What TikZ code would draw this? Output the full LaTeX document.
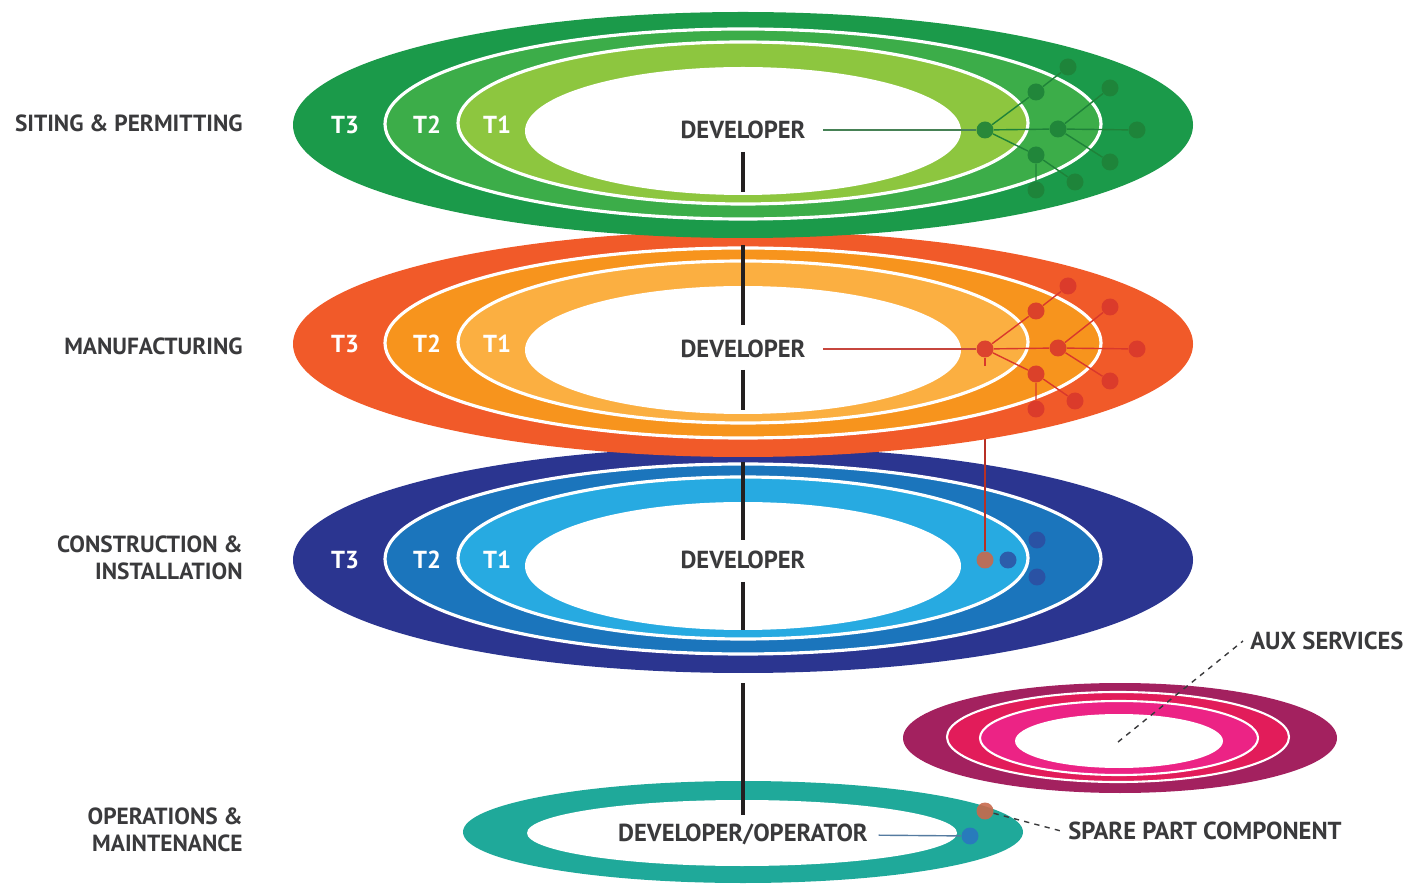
\documentclass[tikz,border=0pt]{standalone}
\usepackage{fontspec}
\setmainfont{PT Sans}
\usetikzlibrary{positioning}
\definecolor{greenT3}{HTML}{1B9A4A}
\definecolor{greenT2}{HTML}{3CAD49}
\definecolor{greenT1}{HTML}{8DC63F}
\definecolor{greenDot}{HTML}{1F8239}
\definecolor{orangeT3}{HTML}{F15A29}
\definecolor{orangeT2}{HTML}{F7941D}
\definecolor{orangeT1}{HTML}{FBAF41}
\definecolor{orangeDot}{HTML}{D9382C}
\definecolor{blueT3}{HTML}{2B3590}
\definecolor{blueT2}{HTML}{1B75BC}
\definecolor{blueT1}{HTML}{27AAE1}
\definecolor{blueDot}{HTML}{2E4A9E}
\definecolor{tealOM}{HTML}{1FA99A}
\definecolor{auxT3}{HTML}{A3215F}
\definecolor{auxT2}{HTML}{E21C5A}
\definecolor{auxT1}{HTML}{EC2385}
\definecolor{spareDot}{HTML}{C8694C}
\definecolor{omDot}{HTML}{2A77C0}
\definecolor{textgray}{HTML}{3A3A3C}
\definecolor{stemblack}{HTML}{231F20}

% one stage: centre y, T3, T2, T1 colours
\newcommand{\ringlayer}[4]{%
  \fill[#2] (743,#1) ellipse [x radius=450, y radius=113];
  \filldraw[fill=#3, draw=white, line width=1.8pt] (743,#1-1) ellipse [x radius=358, y radius=95];
  \filldraw[fill=#4, draw=white, line width=1.8pt] (743,#1-2) ellipse [x radius=285, y radius=81];
  \fill[white] (743,#1+6) ellipse [x radius=218, y radius=64];
}

% supply network: prefix, shift, colour
\newcommand{\supplynet}[3]{%
  \begin{scope}[shift={(0,#2)}]
    \node[netdot, fill=#3] (#1a) at (985,130) {};
    \node[netdot, fill=#3] (#1b) at (1058,129) {};
    \node[netdot, fill=#3] (#1c) at (1137,130) {};
    \node[netdot, fill=#3] (#1d) at (1036,92) {};
    \node[netdot, fill=#3] (#1e) at (1068,67) {};
    \node[netdot, fill=#3] (#1f) at (1110,88) {};
    \node[netdot, fill=#3] (#1g) at (1036,155) {};
    \node[netdot, fill=#3] (#1h) at (1110,162) {};
    \node[netdot, fill=#3] (#1i) at (1075,182) {};
    \node[netdot, fill=#3] (#1j) at (1036,190) {};
    \draw[#3, line width=0.8pt] (#1a) -- (#1d) -- (#1e) (#1a) -- (#1b) -- (#1c)
      (#1b) -- (#1f) (#1b) -- (#1h) (#1a) -- (#1g) -- (#1i) (#1g) -- (#1j);
  \end{scope}}

\begin{document}
\begin{tikzpicture}[x=0.02cm, y=-0.02cm,
	 stage/.style={font=\bfseries\fontsize{14}{15.5}\selectfont, text=textgray, inner sep=0pt},
	 label/.style={font=\bfseries\fontsize{13.3}{15.5}\selectfont, text=textgray, inner sep=0pt},
	 tier/.style={font=\bfseries\fontsize{14}{15.5}\selectfont, text=white},
	 netdot/.style={circle, inner sep=0pt, minimum size=0.34cm, opacity=0.9},
	 stem/.style={draw=stemblack, line width=2.3pt},
	 leader/.style={dashed, draw=textgray, line width=0.8pt}]
	\useasboundingbox (0,0) rectangle (1406,884);
	% bottom stages first
	\fill[tealOM] (743,832) ellipse [x radius=280, y radius=51];
	\fill[white] (742,833) ellipse [x radius=215, y radius=33];
	\fill[auxT3] (1120,738) ellipse [x radius=217, y radius=55];
	\filldraw[fill=auxT2, draw=white, line width=1.2pt] (1118,737) ellipse [x radius=171, y radius=45];
	\filldraw[fill=auxT1, draw=white, line width=1.2pt] (1119,738) ellipse [x radius=139, y radius=37];
	\fill[white] (1119,741) ellipse [x radius=104, y radius=27];
	\ringlayer{560}{blueT3}{blueT2}{blueT1}
	\node[netdot, fill=spareDot] (bred) at (985,560) {};
	\node[netdot, fill=blueDot, opacity=0.8] (bb1) at (1008,560) {};
	\node[netdot, fill=blueDot, opacity=0.8] (bb2) at (1037,540) {};
	\node[netdot, fill=blueDot, opacity=0.8] (bb3) at (1037,577) {};
	\coordinate (drop) at (985,349);
	\draw[orangeDot!85!black, line width=0.8pt] (bred) -- (drop);
	\ringlayer{344}{orangeT3}{orangeT2}{orangeT1}
	\ringlayer{125}{greenT3}{greenT2}{greenT1}
	\foreach \y/\p in {125/g,344/o,560/b} {
	  \node[tier] (\p3) at (345,\y) {T3};
	  \node[tier] (\p2) at (427,\y) {T2};
	  \node[tier] (\p1) at (497,\y) {T1};
	}
	\supplynet{g}{0}{greenDot}
	\supplynet{o}{219}{orangeDot}
	\draw[orangeDot, line width=0.8pt] (oa) -- ++(0,17);
	% developers
	\node[stage] (devG) at (743,130) {DEVELOPER};
	\node[stage] (devO) at (743,349) {DEVELOPER};
	\node[stage] (devB) at (743,560) {DEVELOPER};
	\node[stage] (devOM) at (743,834) {DEVELOPER/OPERATOR};
	\draw[greenDot!60!gray, line width=0.8pt, shorten <=10pt] (devG) -- (ga);
	\draw[orangeDot!80!gray, line width=0.8pt, shorten <=10pt] (devO) -- (oa);
	\draw[stem] (devG) ++(0,22) -- ++(0,40);
	\draw[stem] (devO) ++(0,-104) -- ++(0,80);
	\draw[stem] (devO) ++(0,21) -- ++(0,40);
	\draw[stem] (devB) ++(0,-98) -- ++(0,78);
	\draw[stem] (devB) ++(0,22) -- ++(0,48);
	\draw[stem] (devOM) ++(0,-151) -- ++(0,132);
	% operations dots
	\node[netdot, fill=omDot] (omdot) at (970,836) {};
	\node[netdot, fill=spareDot] (spare) at (985,811) {};
	\draw[omDot!50!gray, line width=0.8pt, shorten <=6pt] (devOM) -- (omdot);
	% stage labels
	\node[label, anchor=east] (sitLbl) at (243,123) {SITING \& PERMITTING};
	\node[label, anchor=east] (manLbl) at (243,346) {MANUFACTURING};
	\node[label, anchor=east, align=right] (conLbl) at (243,558) {CONSTRUCTION \&\\INSTALLATION};
	\node[label, anchor=east, align=right] (opsLbl) at (243,830) {OPERATIONS \&\\MAINTENANCE};
	\node[stage, anchor=west] (auxLbl) at (1250,641) {AUX SERVICES};
	\node[stage, anchor=west] (spareLbl) at (1068,831) {SPARE PART COMPONENT};
	\coordinate (auxc) at (1118,742);
	\draw[leader] (auxc) -- ([xshift=-4pt]auxLbl.west);
	\draw[leader] (spare) -- ([xshift=-4pt]spareLbl.west);
\end{tikzpicture}
\end{document}
